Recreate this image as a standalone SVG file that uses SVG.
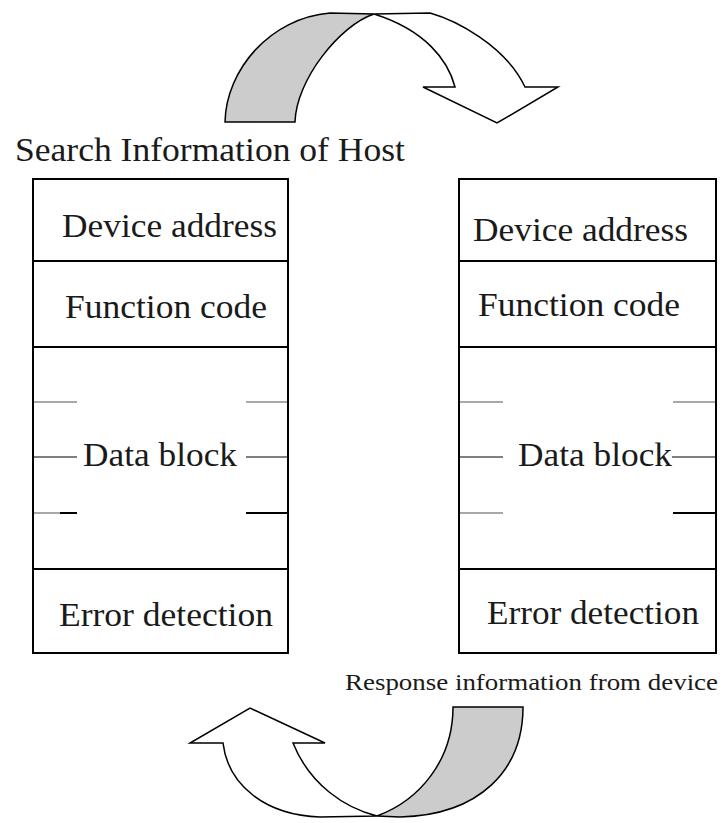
<svg xmlns="http://www.w3.org/2000/svg" width="726" height="823" viewBox="0 0 726 823">
<style>
.box{fill:#fff;stroke:#000;stroke-width:2}
.div{stroke:#000;stroke-width:2}
.t{font-family:"Liberation Serif","Times New Roman",serif;font-size:34px;fill:#1a1a1a}
.cap{font-family:"Liberation Serif","Times New Roman",serif;fill:#1a1a1a}
.tk{stroke-width:2}
.g1{stroke:#a8a8a8}
.g2{stroke:#808080}
.bk{stroke:#000}
.arw{stroke:#000;stroke-width:1.5;stroke-linejoin:miter}
.gray{fill:#cccccc}
.white{fill:#fff}
</style>
<rect width="726" height="823" fill="#fff"/>

<g id="host-label">
<text class="cap" x="15" y="161" font-size="33" textLength="390" lengthAdjust="spacingAndGlyphs">Search Information of Host</text>
</g>

<g id="host-box">
<rect class="box" x="33" y="179" width="255" height="474"/>
<line class="div" x1="33" y1="261" x2="288" y2="261"/>
<line class="div" x1="33" y1="347" x2="288" y2="347"/>
<line class="div" x1="33" y1="569" x2="288" y2="569"/>
<text class="t" x="62" y="237" textLength="215" lengthAdjust="spacingAndGlyphs">Device address</text>
<text class="t" x="65" y="318" textLength="202" lengthAdjust="spacingAndGlyphs">Function code</text>
<text class="t" x="83" y="466" textLength="154" lengthAdjust="spacingAndGlyphs">Data block</text>
<text class="t" x="59" y="626" textLength="214" lengthAdjust="spacingAndGlyphs">Error detection</text>
<line class="tk g1" x1="34" y1="402" x2="77" y2="402"/>
<line class="tk g1" x1="246" y1="402" x2="287" y2="402"/>
<line class="tk g2" x1="34" y1="457" x2="77" y2="457"/>
<line class="tk g2" x1="246" y1="457" x2="287" y2="457"/>
<line class="tk g1" x1="34" y1="513" x2="60" y2="513"/>
<line class="tk bk" x1="60" y1="513" x2="77" y2="513"/>
<line class="tk bk" x1="246" y1="513" x2="287" y2="513"/>
</g>

<g id="device-box">
<rect class="box" x="459" y="179" width="257" height="474"/>
<line class="div" x1="459" y1="261" x2="716" y2="261"/>
<line class="div" x1="459" y1="347" x2="716" y2="347"/>
<line class="div" x1="459" y1="569" x2="716" y2="569"/>
<text class="t" x="473" y="241" textLength="215" lengthAdjust="spacingAndGlyphs">Device address</text>
<text class="t" x="478" y="316" textLength="202" lengthAdjust="spacingAndGlyphs">Function code</text>
<text class="t" x="518" y="466" textLength="154" lengthAdjust="spacingAndGlyphs">Data block</text>
<text class="t" x="487" y="624" textLength="212" lengthAdjust="spacingAndGlyphs">Error detection</text>
<line class="tk g1" x1="460" y1="402" x2="503" y2="402"/>
<line class="tk g1" x1="673" y1="402" x2="715" y2="402"/>
<line class="tk g2" x1="460" y1="457" x2="503" y2="457"/>
<line class="tk g2" x1="672" y1="457" x2="715" y2="457"/>
<line class="tk g1" x1="460" y1="513" x2="503" y2="513"/>
<line class="tk bk" x1="673" y1="513" x2="715" y2="513"/>
</g>

<g id="device-label">
<text class="cap" x="345" y="690" font-size="24" textLength="373" lengthAdjust="spacingAndGlyphs">Response information from device</text>
</g>

<g id="connectors">
<g id="arrow-top">
<path class="arw white" d="M374,14 L430,13 C455,20 505,45 525,87 L558,87 L497,123 L423,87 L455,87 C448,60 425,30 374,14 Z"/>
<path class="arw gray" d="M225,122 C226,70 270,18 330,13 L374,14 C340,25 296,80 295,122 Z"/>
</g>
<g id="arrow-bottom">
<path class="arw white" d="M377,816 C345,808 310,785 293,743 L325,743 L250,708 L190,743 L223,743 C228,785 265,815 320,817 Z"/>
<path class="arw gray" d="M453,707 L523,707 C523,770 480,815 400,817 L377,816 C420,800 453,760 453,707 Z"/>
</g>
</g>
</svg>
